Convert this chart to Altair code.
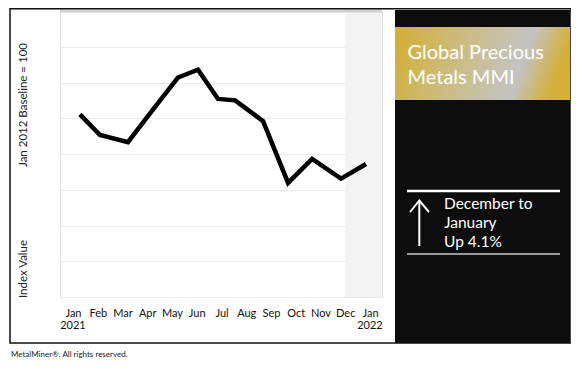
import altair as alt
import pandas as pd

# ---- data ----
months = ["Jan", "Feb", "Mar", "Apr", "May", "Jun", "Jul", "Aug", "Sep", "Oct", "Nov", "Dec", "Jan"]
year_positions = [0, 12]
year_labels = ["2021", "2022"]
# horizontal position of each plotted point, in month units (0 = Jan 2021 label)
month_position = [0.28, 1.09, 2.22, 3.23, 4.24, 5.05, 5.86, 6.55, 7.68, 8.69, 9.66, 10.83, 11.84]
index_values = [1111, 1053, 1033, 1124, 1214, 1236, 1154, 1150, 1092, 919, 986, 931, 972]
y_ticks = [600, 700, 800, 900, 1000, 1100, 1200, 1300, 1400]
shade_from = 11  # Dec 2021 onward shaded

title_lines = ["Global Precious", "Metals MMI"]
change_lines = ["December to", "January", "Up 4.1%"]
axis_title_top = "Jan 2012 Baseline = 100"
axis_title_bottom = "Index Value"
footer = "MetalMiner\u00ae. All rights reserved."

X_MIN, X_MAX = -0.525, 12.485
W, H = 322, 286
FONT = "Lato"

df = pd.DataFrame({"m": month_position, "v": index_values})
xs = alt.Scale(domain=[X_MIN, X_MAX], nice=False, zero=False)
ys = alt.Scale(domain=[y_ticks[0], y_ticks[-1]], nice=False, zero=False)

label_expr = "[" + ",".join("'" + m + "'" for m in months) + "][datum.value]"

x_axis = alt.Axis(values=list(range(13)), labelExpr=label_expr, grid=False, ticks=False,
                  domain=False, title=None, labelFont=FONT, labelFontSize=11,
                  labelColor="#111", labelPadding=10.5, labelOverlap=False, labelFlush=False)
y_axis = alt.Axis(values=y_ticks, labels=False, ticks=False, domain=False, title=None,
                  grid=True, gridColor="#ebebeb", gridWidth=1)

one = pd.DataFrame({"a": [0]})

shade = alt.Chart(pd.DataFrame({"x": [shade_from], "x2": [X_MAX], "y": [y_ticks[0]], "y2": [y_ticks[-1]]})).mark_rect(
    color="#f4f4f4"
).encode(
    x=alt.X("x:Q", scale=xs, axis=x_axis),
    x2="x2:Q",
    y=alt.Y("y:Q", scale=ys, axis=y_axis),
    y2="y2:Q",
)

top_rule = alt.Chart(pd.DataFrame({"y": [y_ticks[-1]]})).mark_rule(color="#cfcfcf", strokeWidth=3).encode(
    y=alt.Y("y:Q", scale=ys, axis=y_axis), x=alt.value(0), x2=alt.value(W)
)

line = alt.Chart(df).mark_line(color="#000000", strokeWidth=4.5, strokeJoin="miter").encode(
    x=alt.X("m:Q", scale=xs, axis=x_axis), y=alt.Y("v:Q", scale=ys, axis=y_axis)
)

years = alt.Chart(pd.DataFrame({"m": year_positions, "t": year_labels})).mark_text(
    font=FONT, fontSize=11, color="#111", baseline="alphabetic", align="center"
).encode(
    x=alt.X("m:Q", scale=xs, axis=x_axis), y=alt.value(H + 32), text="t:N"
)

border = alt.Chart(one).mark_rect(fill="white", fillOpacity=0, stroke="#111", strokeWidth=1.5).encode(
    x=alt.value(-50), x2=alt.value(511), y=alt.value(-2.25), y2=alt.value(332)
)

panel = alt.Chart(one).mark_rect(color="#0d0d0d").encode(
    x=alt.value(335), x2=alt.value(510), y=alt.value(-1), y2=alt.value(332)
)

grad = alt.LinearGradient(
    gradient="linear",
    stops=[
        alt.GradientStop(offset=0, color="#d3ae31"),
        alt.GradientStop(offset=0.45, color="#cbbd8a"),
        alt.GradientStop(offset=0.78, color="#c3c3c3"),
        alt.GradientStop(offset=1, color="#d4b03a"),
    ],
    x1=0, y1=0, x2=1, y2=0.15,
)
band = alt.Chart(one).mark_rect(color=grad).encode(
    x=alt.value(335), x2=alt.value(510), y=alt.value(16), y2=alt.value(89)
)


def txt(s, x, y, size, color="white", angle=0, align="left", baseline="alphabetic"):
    kw = dict(text=s, font=FONT, fontSize=size, color=color, align=align, baseline=baseline)
    if angle:
        kw["angle"] = angle
    return alt.Chart(one).mark_text(**kw).encode(x=alt.value(x), y=alt.value(y))


texts = [
    txt(title_lines[0], 347.5, 47.5, 20),
    txt(title_lines[1], 347.5, 72.5, 20),
    txt(change_lines[0], 384, 197.5, 15.5),
    txt(change_lines[1], 384, 216.5, 15.5),
    txt(change_lines[2], 384, 236, 15.5),
    txt(axis_title_top, -36, 94, 11.5, color="#222", angle=270, align="center", baseline="middle"),
    txt(axis_title_bottom, -36, 258, 11.5, color="#222", angle=270, align="center", baseline="middle"),
    txt(footer, -49, 346, 8, color="#222"),
]

white_rule = alt.Chart(one).mark_rule(color="white", strokeWidth=2.5).encode(
    x=alt.value(347), x2=alt.value(500), y=alt.value(180)
)
gray_rule = alt.Chart(one).mark_rule(color="#9a9a9a", strokeWidth=2).encode(
    x=alt.value(347), x2=alt.value(500), y=alt.value(243)
)
shaft = alt.Chart(one).mark_rule(color="white", strokeWidth=2).encode(
    x=alt.value(359.3), y=alt.value(190), y2=alt.value(235)
)
head_l = alt.Chart(one).mark_rule(color="white", strokeWidth=2, strokeCap="round").encode(
    x=alt.value(350.5), x2=alt.value(359.3), y=alt.value(200.5), y2=alt.value(189.5)
)
head_r = alt.Chart(one).mark_rule(color="white", strokeWidth=2, strokeCap="round").encode(
    x=alt.value(368.5), x2=alt.value(359.3), y=alt.value(200.5), y2=alt.value(189.5)
)

chart = alt.layer(
    shade, top_rule, line, years, border, panel, band, white_rule, gray_rule, shaft, head_l, head_r, *texts
).properties(
    width=W, height=H,
    autosize=alt.AutoSizeParams(type="none"),
    padding={"left": 52, "top": 3, "right": 189, "bottom": 72},
).configure_view(stroke=None).configure(background="white")

chart.save("out.html", embed_options={"renderer": "svg", "actions": False})
